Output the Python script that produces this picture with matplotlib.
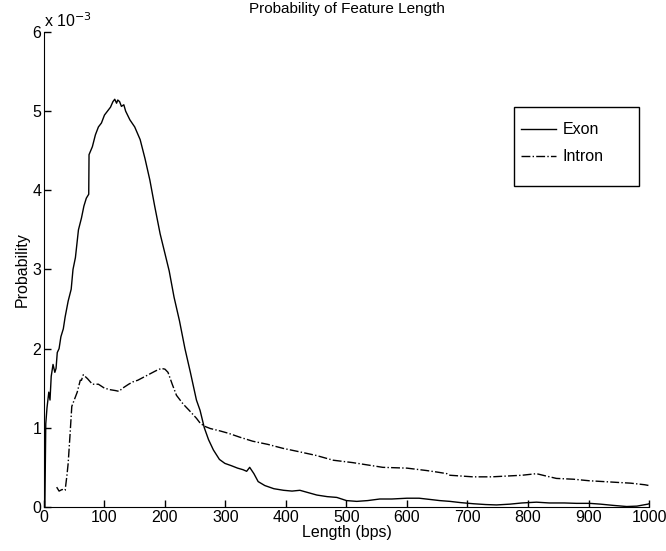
import matplotlib.pyplot as plt
from matplotlib.patches import Rectangle

plt.rcParams['font.family'] = ['Liberation Sans', 'DejaVu Sans']

# values in units of 1e-3
exon_x = [0, 1.5, 3, 5, 8, 10, 12, 15, 18, 20, 22, 25, 28, 32, 35, 40, 45, 48, 52, 57, 62, 66, 70,
          74, 74.5, 80, 85, 90, 95, 100, 105, 110, 114, 117, 120, 122, 125, 128, 132, 135, 142,
          150, 159, 167, 175, 183, 192, 200, 207, 215, 224, 233, 242, 252, 258, 265, 272, 280,
          290, 299, 310, 320, 329, 335, 340, 347, 354, 365, 380, 396, 410, 423, 437, 451, 468,
          484, 500, 517, 535, 555, 575, 600, 620, 643, 654, 671, 688, 710, 730, 748, 770, 790,
          814, 835, 860, 880, 902, 920, 940, 963, 980, 998, 1000]
exon_y = [0.0, 0.0, 1.05, 1.25, 1.45, 1.35, 1.65, 1.8, 1.7, 1.75, 1.95, 2.0, 2.15, 2.25, 2.4, 2.6,
          2.75, 3.0, 3.15, 3.5, 3.65, 3.8, 3.9, 3.95, 4.45, 4.55, 4.7, 4.8, 4.85, 4.95, 5.0, 5.05,
          5.12, 5.15, 5.1, 5.14, 5.12, 5.06, 5.08, 5.0, 4.89, 4.8, 4.64, 4.4, 4.13, 3.8, 3.45,
          3.2, 2.98, 2.65, 2.35, 2.0, 1.7, 1.35, 1.22, 1.0, 0.85, 0.72, 0.6, 0.55, 0.52, 0.49, 0.47,
          0.45, 0.5, 0.42, 0.32, 0.27, 0.23, 0.21, 0.2, 0.21, 0.18, 0.15, 0.13, 0.12, 0.08, 0.07,
          0.08, 0.10, 0.10, 0.11, 0.11, 0.09, 0.08, 0.07, 0.055, 0.04, 0.03, 0.025, 0.035, 0.05,
          0.06, 0.05, 0.05, 0.045, 0.045, 0.035, 0.02, 0.005, 0.01, 0.035, 0.04]

intron_x = [21, 25, 30, 35, 38, 40, 43, 46, 50, 55, 60, 62, 65, 72, 80, 90, 100, 110, 118, 124,
            130, 140, 147, 155, 165, 175, 185, 194, 200, 205, 212, 219, 230, 240, 252, 258, 265,
            275, 291, 305, 324, 345, 370, 395, 420, 450, 478, 510, 535, 560, 600, 632, 650, 666,
            671, 690, 709, 740, 765, 790, 814, 830, 847, 875, 902, 925, 947, 970, 993, 1000]
intron_y = [0.25, 0.2, 0.22, 0.21, 0.4, 0.55, 0.9, 1.27, 1.35, 1.45, 1.6, 1.6, 1.67, 1.62, 1.55,
            1.55, 1.5, 1.48, 1.47, 1.46, 1.5, 1.55, 1.58, 1.6, 1.64, 1.68, 1.72, 1.75, 1.74, 1.7,
            1.55, 1.41, 1.3, 1.22, 1.12, 1.06, 1.02, 0.99, 0.96, 0.93, 0.88, 0.83, 0.79, 0.74,
            0.7, 0.65, 0.59, 0.56, 0.53, 0.50, 0.49, 0.46, 0.44, 0.42, 0.40, 0.39, 0.38, 0.38,
            0.39, 0.4, 0.42, 0.39, 0.36, 0.35, 0.33, 0.32, 0.31, 0.30, 0.28, 0.27]

fs = 11.5

fig = plt.figure(figsize=(6.66, 5.51), dpi=100)
ax = fig.add_axes([0.066, 0.08, 0.9085, 0.862])

ax.plot(exon_x, exon_y, color='black', lw=1.0, label='Exon')
ax.plot(intron_x, intron_y, color='black', lw=1.0, ls='-.', label='Intron')

ax.set_xlim(0, 1000)
ax.set_ylim(0, 6)
ax.set_xticks(range(0, 1001, 100))
ax.set_yticks(range(0, 7))
ax.spines['top'].set_visible(False)
ax.spines['right'].set_visible(False)
ax.tick_params(direction='in', length=5, labelsize=fs, width=1, pad=2)
ax.text(0.0, 1.005, 'x 10$^{-3}$', transform=ax.transAxes, fontsize=fs, va='bottom', ha='left')

ax.set_title('Probability of Feature Length', fontsize=11, pad=14)
ax.set_xlabel('Length (bps)', fontsize=fs, labelpad=0)
ax.set_ylabel('Probability', fontsize=fs, labelpad=2)

# legend box drawn separately (MATLAB-style roomy frame)
ax.add_patch(Rectangle((0.777, 0.676), 0.206, 0.166, transform=ax.transAxes,
                       fill=True, facecolor='white', edgecolor='black', lw=1.0, zorder=5))
leg = ax.legend(loc='upper left', bbox_to_anchor=(0.788, 0.81), fontsize=fs,
                frameon=False, borderpad=0, handlelength=2.2, handletextpad=0.4,
                labelspacing=0.75, borderaxespad=0)
leg.set_zorder(6)

fig.savefig('out.png', dpi=100)
